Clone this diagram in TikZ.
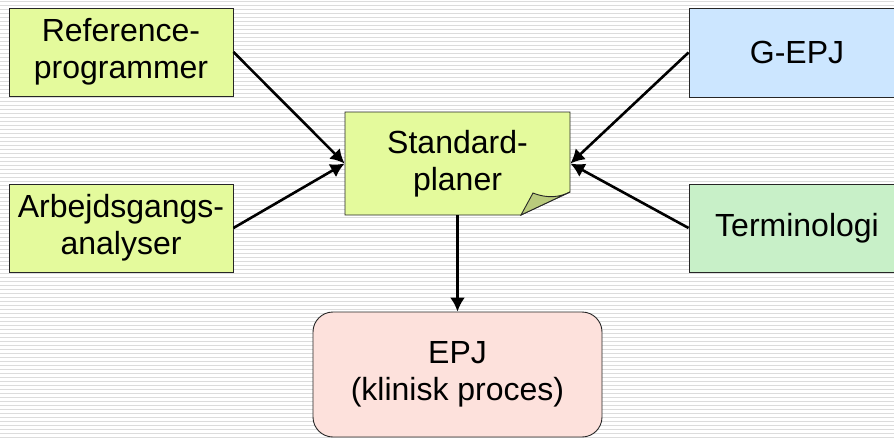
\documentclass[tikz,border=0pt]{standalone}
\usepackage{fontspec}
\setmainfont{Liberation Sans}
\usetikzlibrary{arrows.meta}
\definecolor{boxgreen}{HTML}{E4FA9C}
\definecolor{foldgreen}{HTML}{B9CB7C}
\definecolor{boxblue}{HTML}{CCE6FF}
\definecolor{boxmint}{HTML}{C8F0C8}
\definecolor{boxpink}{HTML}{FDE1DC}
\definecolor{stripe}{HTML}{DCDCDC}
\tikzset{
  box/.style={draw=black!85, line width=0.9pt, inner sep=0pt, align=center,
    font=\fontsize{32}{37}\selectfont},
  conn/.style={line width=2.6pt, -{Latex[length=14pt,width=15pt]}},
}
\begin{document}
\begin{tikzpicture}[x=1pt,y=-1pt]
\useasboundingbox (0,0) rectangle (894,439);
\clip (0,0) rectangle (894,439);
\fill[white] (0,0) rectangle (894,439);
\foreach \k in {0,...,110} {
  \draw[stripe, line width=1.6pt] (0,{1.5+4*\k}) -- (894,{1.5+4*\k});
}
% boxes
\node[box, fill=boxgreen, minimum width=224pt, minimum height=88pt] (ref) at (121,52) {Reference-\\programmer};
\node[box, fill=boxgreen, minimum width=224pt, minimum height=88pt] (arb) at (121,228) {Arbejdsgangs-\\analyser};
\node[box, fill=boxblue, minimum width=216pt, minimum height=89pt] (gepj) at (797,52.5) {G-EPJ};
\node[box, fill=boxmint, minimum width=216pt, minimum height=88pt] (term) at (797,228) {Terminologi};
\node[box, fill=boxpink, rounded corners=20pt, minimum width=289pt, minimum height=125pt] (epj) at (457.5,374.5) {EPJ\\(klinisk proces)};
% standard box with folded corner
\coordinate (sNW) at (345,112);
\coordinate (sNE) at (570,112);
\coordinate (sR) at (570,192);
\coordinate (sB) at (521,215);
\coordinate (sSW) at (345,215);
\coordinate (sF) at (533,193);
\draw[fill=boxgreen, draw=black!85, line width=0.9pt] (sNW) -- (sNE) -- (sR) -- (sB) -- (sSW) -- cycle;
\draw[fill=foldgreen, draw=black!85, line width=0.9pt] (sB) -- (sF) .. controls (548,199) and (560,197) .. (sR) -- cycle;
\node[box, draw=none, minimum width=225pt, minimum height=103pt] (std) at (457.5,163.5) {Standard-\\planer};
% connectors
\draw[conn] (ref.east) -- (std.west);
\draw[conn] (arb.east) -- (std.west);
\draw[conn] (gepj.west) -- (std.east);
\draw[conn] (term.west) -- (std.east);
\draw[conn] (std.south) -- (epj.north);
\end{tikzpicture}
\end{document}
